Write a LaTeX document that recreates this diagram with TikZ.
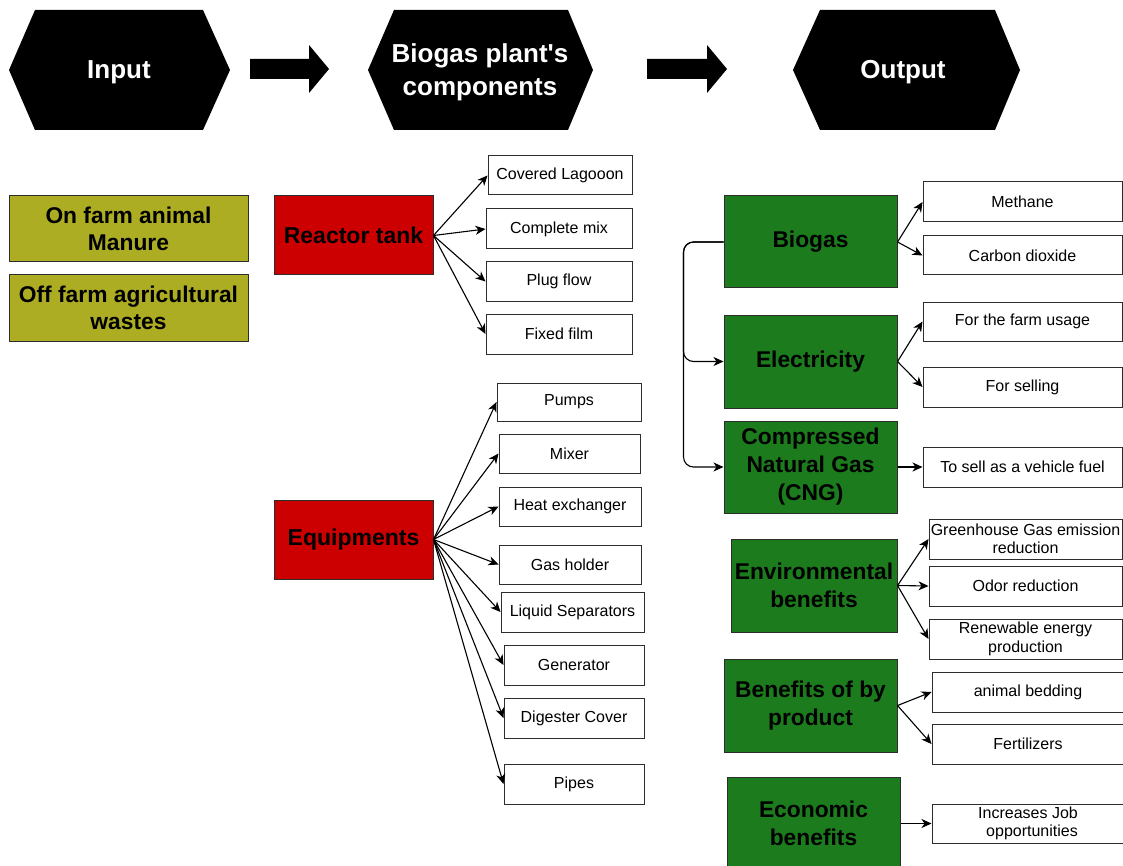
\documentclass[tikz,border=0pt]{standalone}
\usepackage{fontspec}
\setmainfont{Liberation Sans}
\usetikzlibrary{arrows.meta}
\definecolor{olivebox}{RGB}{173,173,36}
\definecolor{redbox}{RGB}{204,0,0}
\definecolor{greenbox}{RGB}{28,123,28}
\definecolor{edgecol}{RGB}{45,45,45}
\newcommand{\rbox}[7]{\node[#1, minimum width={(#5)-(#3)}, minimum height={(#6)-(#4)}] (#2) at ({((#3)+(#5))/2},{((#4)+(#6))/2}) {#7};}
\tikzset{
  base/.style={draw=edgecol, line width=1pt, inner sep=0pt, align=center, rectangle},
  small/.style={base, fill=white, font=\fontsize{16}{18.5}\selectfont},
  olive/.style={base, fill=olivebox, font=\bfseries\fontsize{22.8}{27}\selectfont},
  redb/.style={base, fill=redbox, font=\bfseries\fontsize{23}{27}\selectfont},
  greenb/.style={base, fill=greenbox, font=\bfseries\fontsize{22.8}{28}\selectfont},
  head/.style={text=white, align=center, inner sep=0pt, font=\bfseries\fontsize{26}{33}\selectfont},
  arr/.style={draw=black, line width=1.1pt, -{Stealth[length=10pt,width=9pt,inset=3pt]}},
}
\begin{document}
\begin{tikzpicture}[x=1pt,y=-1pt]
\clip (0,0) rectangle (1123,866);
\fill[white] (0,0) rectangle (1123,866);
% hexagons
\fill[black] (9,70) -- (35,10) -- (203,10) -- (230,70) -- (203,130) -- (35,130) -- cycle;
\node[head] (inp) at (119,72) {Input};
\fill[black] (368,70) -- (394,10) -- (568,10) -- (593,70) -- (568,130) -- (394,130) -- cycle;
\node[head] (comp) at (480,72) {Biogas plant\textquotesingle s\\components};
\fill[black] (793,70) -- (820,10) -- (995,10) -- (1020,70) -- (995,130) -- (820,130) -- cycle;
\node[head] (outp) at (903,72) {Output};
% block arrows
\fill[black] (250,59) -- (309,59) -- (309,45) -- (329,69) -- (309,93) -- (309,79) -- (250,79) -- cycle;
\fill[black] (647,59) -- (707,59) -- (707,45) -- (727,69) -- (707,93) -- (707,79) -- (647,79) -- cycle;
% inputs
\rbox{olive}{on}{9}{196}{248}{262}{On farm animal\\Manure}
\rbox{olive}{off}{9}{275}{248}{341}{Off farm agricultural\\wastes}
% reactor
\rbox{redb}{rt}{274}{196}{433}{275}{Reactor tank}
\rbox{small}{cl}{488}{156}{632}{195}{Covered Lagooon}
\rbox{small}{cm}{486}{209}{632}{249}{Complete mix}
\rbox{small}{pf}{486}{262}{632}{301}{Plug flow}
\rbox{small}{ff}{486}{314}{632}{354}{Fixed film}
\foreach \t in {cl,cm,pf,ff} \draw[arr] (rt.east) -- (\t.west);
% equipments
\rbox{redb}{eq}{274}{500}{433}{579}{Equipments}
\rbox{small}{pu}{497}{383}{641}{421}{Pumps}
\rbox{small}{mx}{499}{434}{640}{473}{Mixer}
\rbox{small}{he}{499}{487}{641}{526}{Heat exchanger}
\rbox{small}{gh}{499}{545}{641}{584}{Gas holder}
\rbox{small}{ls}{501}{592}{644}{632}{Liquid Separators}
\rbox{small}{ge}{504}{645}{644}{685}{Generator}
\rbox{small}{dc}{504}{698}{644}{738}{Digester Cover}
\rbox{small}{pi}{504}{764}{644}{804}{Pipes}
\foreach \t in {pu,mx,he,gh,ls,ge,dc,pi} \draw[arr] (eq.east) -- (\t.west);
% outputs
\rbox{greenb}{bio}{724}{196}{897}{288}{Biogas}
\rbox{greenb}{el}{724}{315}{897}{408}{Electricity}
\rbox{greenb}{cng}{724}{421}{897}{513}{Compressed\\Natural Gas\\(CNG)}
\rbox{small}{me}{923}{182}{1122}{222}{Methane}
\rbox{small}{co}{923}{236}{1122}{275}{Carbon dioxide}
\rbox{small}{fu}{923}{302}{1122}{341}{For the farm usage}
\rbox{small}{fs}{923}{367}{1122}{407}{For selling}
\rbox{small}{vf}{923}{447}{1122}{487}{To sell as a vehicle fuel}
\draw[arr] (bio.east) -- (me.west);
\draw[arr] (bio.east) -- (co.west);
\draw[arr] (el.east) -- (fu.west);
\draw[arr] (el.east) -- (fs.west);
\draw[arr] (cng.east) -- (vf.west);
\draw[arr, rounded corners=10pt] (bio.west) -- ++(-40,0) |- (el.west);
\draw[arr, rounded corners=10pt] (bio.west) -- ++(-40,0) |- (cng.west);
\rbox{greenb}{env}{731}{539}{897}{632}{Environmental\\benefits}
\rbox{small}{gg}{929}{519}{1122}{559}{Greenhouse Gas emission\\reduction}
\rbox{small}{od}{929}{566}{1122}{606}{Odor reduction}
\rbox{small}{re}{929}{619}{1122}{659}{Renewable energy\\production}
\draw[arr] (env.east) -- (gg.west);
\draw[arr] (env.east) -- (od.west);
\draw[arr] (env.east) -- (re.west);
\rbox{greenb}{bp}{724}{659}{897}{752}{Benefits of by\\product}
\rbox{small}{ab}{932}{672}{1132}{712}{\hspace*{-8pt}animal bedding}
\rbox{small}{fe}{932}{724}{1132}{764}{\hspace*{-8pt}Fertilizers}
\draw[arr] (bp.east) -- (ab.west);
\draw[arr] (bp.east) -- (fe.west);
\rbox{greenb}{eco}{727}{777}{900}{870}{Economic\\benefits}
\rbox{small}{job}{932}{804}{1132}{843}{\hspace*{-8pt}Increases Job\\opportunities}
\draw[arr] (eco.east) -- (job.west);
\end{tikzpicture}
\end{document}
